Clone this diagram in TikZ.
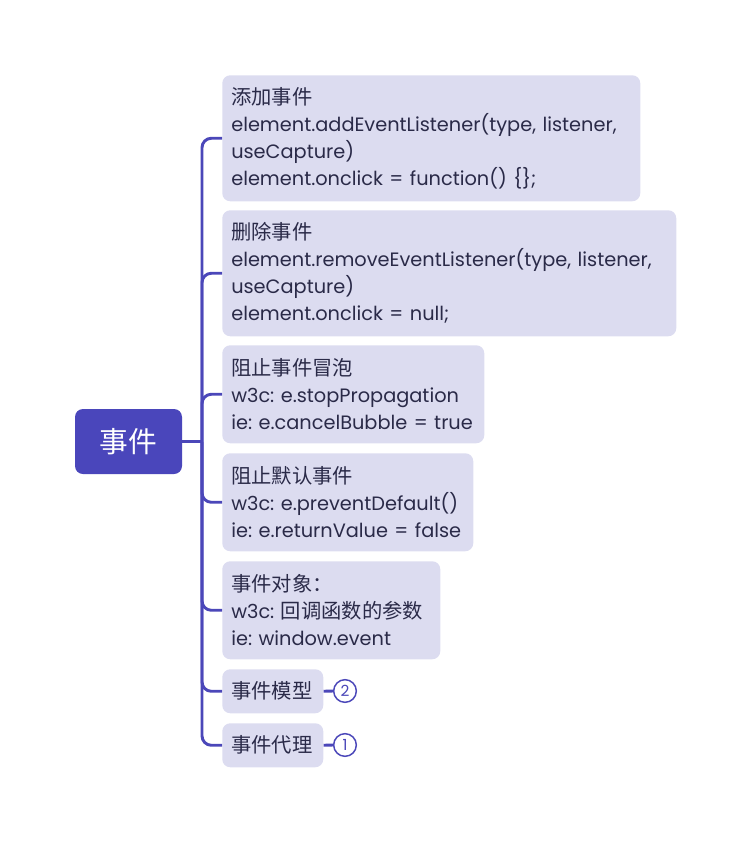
\documentclass[tikz,border=0pt]{standalone}
\usepackage{fontspec}
\setmainfont{Poppins}
\newfontfamily\cjk[Scale=1.05]{Noto Sans CJK SC}
\newcommand\zhs[1]{{\cjk #1}}
\definecolor{rootc}{RGB}{74,70,187}
\definecolor{boxc}{RGB}{220,220,240}
\definecolor{linec}{RGB}{75,71,185}
\definecolor{txtc}{RGB}{42,42,72}
\frenchspacing
\begin{document}
\begin{tikzpicture}[x=0.75pt,y=-0.75pt,
  topic/.style={rectangle,rounded corners=6pt,fill=boxc,anchor=north west,
    align=left,inner xsep=6.75pt,inner ysep=0pt,text=txtc,
    font=\fontsize{14.5}{20.25}\selectfont},
  conn/.style={draw=linec,line width=2.2pt,rounded corners=7pt},
  num/.style={circle,draw=linec,line width=1.1pt,fill=white,text=linec,
    minimum size=17pt,inner sep=0pt,font=\fontsize{11.5}{12}\selectfont}]
\useasboundingbox (0,0) rectangle (751,843);
\node[rectangle,rounded corners=6pt,fill=rootc,text=white,minimum width=80.25pt,
  minimum height=48.75pt,font=\cjk\fontsize{20.5}{22}\selectfont] (root) at (128.5,441.5) {事件};
\node[topic,minimum width=313.5pt,minimum height=94.5pt,text width=300pt] (b1) at (222,75)
  {\zhs{添加事件}\\element.addEventListener(type, listener,\\useCapture)\\element.onclick = function() \{\};};
\node[topic,minimum width=340.5pt,minimum height=94.5pt,text width=327pt] (b2) at (222,210)
  {\zhs{删除事件}\\element.removeEventListener(type, listener,\\useCapture)\\element.onclick = null;};
\node[topic,minimum width=196.5pt,minimum height=73.5pt,text width=183pt] (b3) at (222,345)
  {\zhs{阻止事件冒泡}\\w3c: e.stopPropagation\\ie: e.cancelBubble = true};
\node[topic,minimum width=188.25pt,minimum height=73.5pt,text width=174.75pt] (b4) at (222,453)
  {\zhs{阻止默认事件}\\w3c: e.preventDefault()\\ie: e.returnValue = false};
\node[topic,minimum width=163.5pt,minimum height=73.5pt,text width=150pt] (b5) at (222,561)
  {\zhs{事件对象：}\\w3c: \zhs{回调函数的参数}\\ie: window.event};
\node[topic,minimum width=75.75pt,minimum height=33pt,text width=62.25pt] (b6) at (222,669)
  {\zhs{事件模型}};
\node[topic,minimum width=75.75pt,minimum height=33pt,text width=62.25pt] (b7) at (222,723)
  {\zhs{事件代理}};
\node[num] (c2) at (345,691) {2};
\node[num] (c1) at (345,745) {1};
\coordinate (j) at (202,441.5);
\draw[conn,rounded corners=0pt] (root.east) -- (j);
\foreach \b in {b1,b2,b3,b4,b5,b6,b7}{
  \draw[conn] (j) |- (\b.west);
}
\draw[conn] (b6.east) -- (c2.west);
\draw[conn] (b7.east) -- (c1.west);
\end{tikzpicture}
\end{document}
